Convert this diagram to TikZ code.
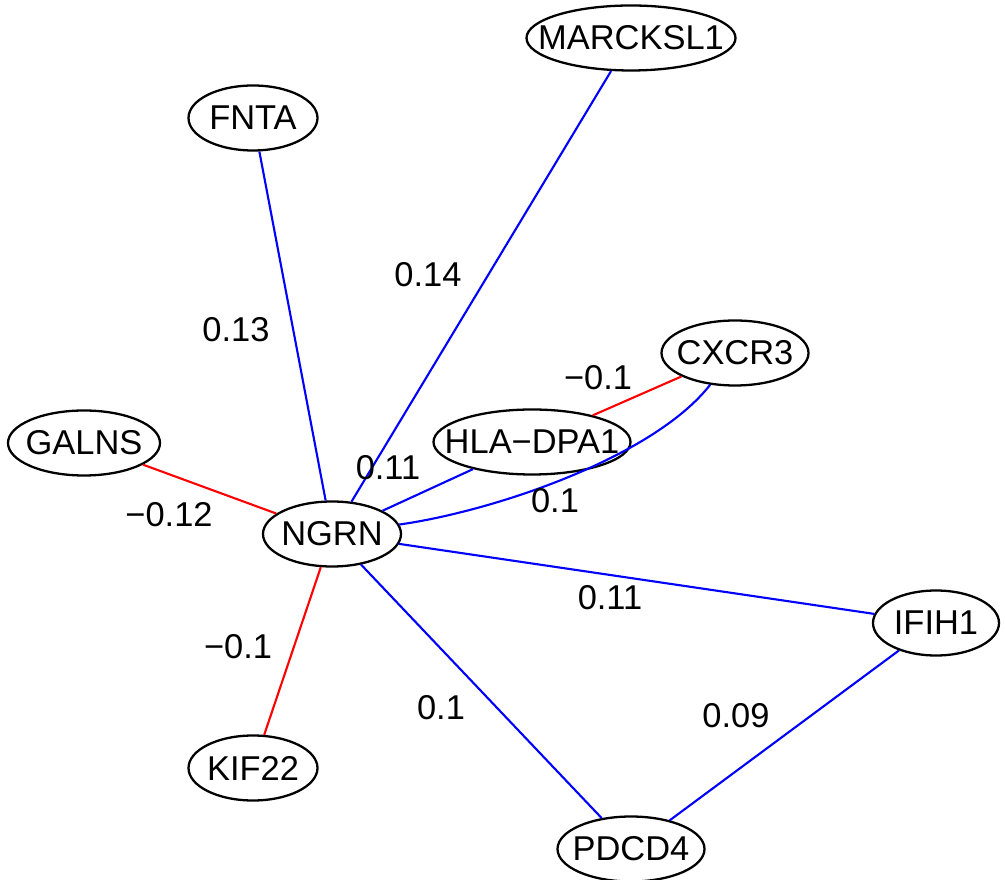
\documentclass[tikz,border=0pt]{standalone}
\usepackage{fontspec}
\setmainfont{Liberation Sans}
\usetikzlibrary{shapes.geometric}
\tikzset{
  gene/.style={ellipse, draw, line width=1.3pt, inner sep=0pt, minimum height=1.3cm,
    execute at begin node={\hbox to 0pt\bgroup\hss},
    execute at end node={\hss\egroup}},
  posedge/.style={draw=blue, line width=1.2pt},
  negedge/.style={draw=red, line width=1.2pt},
  weight/.style={inner sep=0pt}
}

\begin{document}
\begin{tikzpicture}[every node/.style={font=\fontsize{19.6}{23}\selectfont}]
  \useasboundingbox (0,0) rectangle (20.1,17.58);
  \node [gene, minimum width=2.76cm] (NGRN) at (6.64, 6.90) {NGRN};
  \node [gene, minimum width=2.58cm] (FNTA) at (5.06, 15.22) {FNTA};
  \node [gene, minimum width=4.18cm] (MARCKSL1) at (12.62, 16.82) {MARCKSL1};
  \node [gene, minimum width=2.94cm] (CXCR3) at (14.70, 10.52) {CXCR3};
  \node [gene, minimum width=3.04cm] (GALNS) at (1.68, 8.72) {GALNS};
  \node [gene, minimum width=3.94cm] (HLA) at (10.64, 8.74) {HLA−DPA1};
  \node [gene, minimum width=2.52cm] (IFIH1) at (18.72, 5.12) {IFIH1};
  \node [gene, minimum width=2.58cm] (KIF22) at (5.06, 2.22) {KIF22};
  \node [gene, minimum width=2.94cm] (PDCD4) at (12.62, 0.60) {PDCD4};
  \draw [posedge] (NGRN) -- (FNTA);
  \draw [posedge] (NGRN) -- (MARCKSL1);
  \draw [negedge] (NGRN) -- (GALNS);
  \draw [posedge] (NGRN) -- (HLA);
  \draw [negedge] (HLA) -- (CXCR3);
  \draw [posedge] (NGRN) to [out = 8, in = 232, looseness = 0.7] (CXCR3);
  \draw [posedge] (NGRN) -- (IFIH1);
  \draw [negedge] (NGRN) -- (KIF22);
  \draw [posedge] (NGRN) -- (PDCD4);
  \draw [posedge] (IFIH1) -- (PDCD4);
  \node [weight] (wFNTA) at (4.72, 10.98) {0.13};
  \node [weight] (wMARCKSL1) at (8.56, 12.08) {0.14};
  \node [weight] (wGALNS) at (3.38, 7.28) {−0.12};
  \node [weight] (wHLA) at (7.76, 8.22) {0.11};
  \node [weight] (wHLACXCR3) at (11.96, 10.02) {−0.1};
  \node [weight] (wCXCR3) at (11.10, 7.56) {0.1};
  \node [weight] (wIFIH1) at (12.20, 5.62) {0.11};
  \node [weight] (wKIF22) at (4.76, 4.64) {−0.1};
  \node [weight] (wPDCD4) at (8.82, 3.42) {0.1};
  \node [weight] (wIFIH1PDCD4) at (14.72, 3.26) {0.09};
\end{tikzpicture}
\end{document}
